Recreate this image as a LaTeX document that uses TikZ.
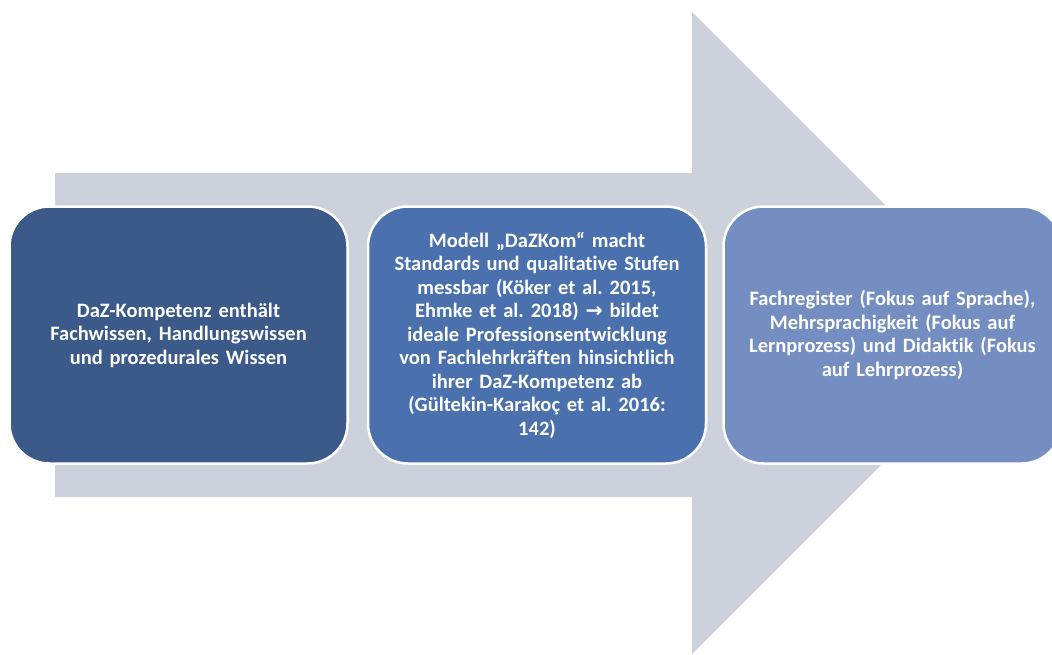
\documentclass[tikz,border=0pt]{standalone}
\usepackage{fontspec}
\setmainfont{Carlito}[RawFeature={-liga}]
\newfontfamily\symfont{DejaVu Sans}[BoldFont={DejaVu Sans Bold}]
\definecolor{arrowgray}{HTML}{CDD1DB}
\definecolor{boxA}{HTML}{3B5A89}
\definecolor{boxB}{HTML}{4A71AD}
\definecolor{boxC}{HTML}{748EC2}
\tikzset{
  stagebox/.style={draw=white, line width=2.5pt, rounded corners=40pt,
    minimum width=338pt, minimum height=257pt, text width=320pt,
    align=center, text=white, inner sep=0pt,
    font=\fontsize{20.5}{23.5}\selectfont\bfseries\frenchspacing}
}
\begin{document}
\begin{tikzpicture}[x=1pt,y=-1pt]
  \path[use as bounding box, clip] (0,0) rectangle (1052,654);
  % broad arrow behind the three stages
  \fill[arrowgray] (55,173) -- (692,173) -- (692,12) -- (1013,333)
    -- (692,654) -- (692,497) -- (55,497) -- cycle;
  % stages
  \node[stagebox, fill=boxA] (s1) at (178.5,335)
    {DaZ-Kompetenz enthält\\Fachwissen, Handlungswissen\\und prozedurales Wissen};
  \node[stagebox, fill=boxB] (s2) at (537,335)
    {Modell „DaZKom“ macht\\Standards und qualitative Stufen\\messbar (Köker et al. 2015,\\Ehmke et al. 2018) {\symfont\bfseries →} bildet\\ideale Professionsentwicklung\\von Fachlehrkräften hinsichtlich\\ihrer DaZ-Kompetenz ab\\(Gültekin-Karakoç et al. 2016:\\142)};
  \node[stagebox, fill=boxC] (s3) at (892.5,335)
    {Fachregister (Fokus auf Sprache),\\Mehrsprachigkeit (Fokus auf\\Lernprozess) und Didaktik (Fokus\\auf Lehrprozess)};
\end{tikzpicture}
\end{document}
